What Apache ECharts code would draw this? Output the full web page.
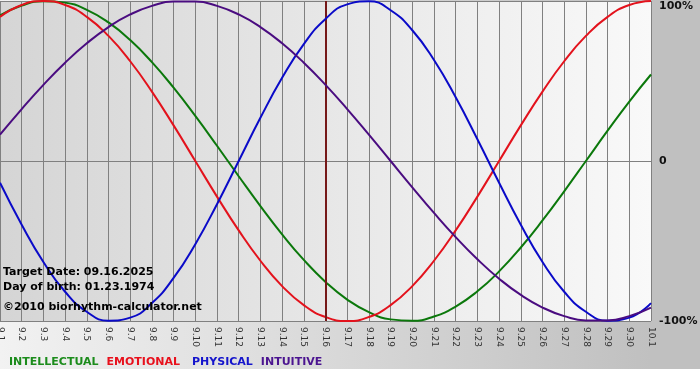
<!DOCTYPE html>
<html>
<head>
<meta charset="utf-8">
<script src="https://cdn.jsdelivr.net/npm/echarts@6/dist/echarts.min.js"></script>
<style>html,body{margin:0;padding:0;background:#fff}#c{width:700px;height:380px}</style>
</head>
<body>
<div id="c"></div>
<script>
const dates = ['9.1','9.2','9.3','9.4','9.5','9.6','9.7','9.8','9.9','9.10','9.11','9.12','9.13','9.14','9.15','9.16','9.17','9.18','9.19','9.20','9.21','9.22','9.23','9.24','9.25','9.26','9.27','9.28','9.29','9.30','10.1'];
const intellectual = [0.9096,0.9718,0.9989,0.9898,0.9450,0.8660,0.7557,0.6182,0.4582,0.2817,0.0951,-0.0951,-0.2817,-0.4582,-0.6182,-0.7557,-0.8660,-0.9450,-0.9898,-0.9989,-0.9718,-0.9096,-0.8146,-0.6901,-0.5406,-0.3717,-0.1893,0,0.1893,0.3717,0.5406];
const emotional = [0.9010,0.9749,1,0.9749,0.9010,0.7818,0.6235,0.4339,0.2225,0,-0.2225,-0.4339,-0.6235,-0.7818,-0.9010,-0.9749,-1,-0.9749,-0.9010,-0.7818,-0.6235,-0.4339,-0.2225,0,0.2225,0.4339,0.6235,0.7818,0.9010,0.9749,1];
const physical = [-0.1362,-0.3984,-0.6311,-0.8170,-0.9423,-0.9977,-0.9791,-0.8879,-0.7308,-0.5196,-0.2698,0,0.2698,0.5196,0.7308,0.8879,0.9791,0.9977,0.9423,0.8170,0.6311,0.3984,0.1362,-0.1362,-0.3984,-0.6311,-0.8170,-0.9423,-0.9977,-0.9791,-0.8879];
const intuitive = [0.1646,0.3247,0.4759,0.6142,0.7357,0.8372,0.9158,0.9694,0.9966,0.9966,0.9694,0.9158,0.8372,0.7357,0.6142,0.4759,0.3247,0.1646,0,-0.1646,-0.3247,-0.4759,-0.6142,-0.7357,-0.8372,-0.9158,-0.9694,-0.9966,-0.9966,-0.9694,-0.9158];
const yTicks = {'1':'100%','0':'0','-1':'-100%'};
const targetDate = '9.16';
const infoLines = ['Target Date: 09.16.2025','Day of birth: 01.23.1974','\u00a92010 biorhythm-calculator.net'];
const seriesNames = ['INTELLECTUAL','EMOTIONAL','PHYSICAL','INTUITIVE'];
const lineColors = ['#0b780b','#e3121c','#0a0ac8','#4a0c80'];
const textColors = ['#1c8c1c','#e8101c','#1414cc','#4b1490'];

const chart = echarts.init(document.getElementById('c'), null, {renderer:'canvas'});
const FONT = 'DejaVu Sans, Verdana, sans-serif';
const allData = [intellectual, emotional, physical, intuitive];
const series = seriesNames.map((n,i)=>({
  name:n, type:'line', data: allData[i], smooth:true, symbol:'none',
  lineStyle:{color:lineColors[i], width:2}, itemStyle:{color:lineColors[i]},
  z: 3 + i
}));
series[0].markLine = {
  silent:true, symbol:'none', label:{show:false},
  lineStyle:{color:'#751818', width:2, type:'solid'},
  data:[{xAxis: targetDate}]
};
const legendPad = [[0,0,0,0],[0,0,0,0],[0,0,0,4],[0,0,0,0]];
chart.setOption({
  animation:false,
  backgroundColor:'#ffffff',
  graphic:[
    {type:'rect', z:-10, silent:true, shape:{x:0,y:0,width:700,height:369},
     style:{fill:new echarts.graphic.LinearGradient(0,0,1,0,[{offset:0,color:'#f2f2f2'},{offset:0.93,color:'#c0c0c0'},{offset:1,color:'#c0c0c0'}])}},
    {type:'text', left:3, top:267, z:20, style:{text:infoLines[0], font:'bold 11px '+FONT, fill:'#000'}},
    {type:'text', left:3, top:282, z:20, style:{text:infoLines[1], font:'bold 11px '+FONT, fill:'#000'}},
    {type:'text', left:3, top:302, z:20, style:{text:infoLines[2], font:'bold 11px '+FONT, fill:'#000'}}
  ],
  legend:{
    left:-1, top:352, itemWidth:0, itemHeight:0, itemGap:3, icon:'rect',
    selectedMode:false,
    textStyle:{fontFamily:FONT, fontSize:11, fontWeight:'bold'},
    data: seriesNames.map((n,i)=>({name:n, textStyle:{color:textColors[i], padding:legendPad[i]}}))
  },
  grid:{left:0, right:49, top:1, bottom:59, show:true, borderWidth:0, containLabel:false, outerBoundsMode:'none',
    backgroundColor:new echarts.graphic.LinearGradient(0,0,1,0,[{offset:0,color:'#d5d5d5'},{offset:1,color:'#f9f9f9'}])},
  xAxis:{
    type:'category', data:dates, boundaryGap:false,
    axisLine:{lineStyle:{color:'#808080', width:1}},
    axisTick:{show:true, length:4, lineStyle:{color:'#808080'}},
    axisLabel:{rotate:-90, margin:6, fontSize:9, color:'#333', fontFamily:FONT, interval:0},
    splitLine:{show:true, lineStyle:{color:'#808080', width:1}}
  },
  yAxis:{
    type:'value', position:'right', min:-1, max:1, interval:1,
    axisLine:{show:false}, axisTick:{show:false},
    splitLine:{show:true, lineStyle:{color:'#808080', width:1}},
    axisLabel:{margin:8, fontSize:11, fontWeight:'bold', color:'#111', fontFamily:FONT,
      verticalAlignMaxLabel:'top',
      formatter:v=>yTicks[String(v)]}
  },
  series: series
});
</script>
</body>
</html>
